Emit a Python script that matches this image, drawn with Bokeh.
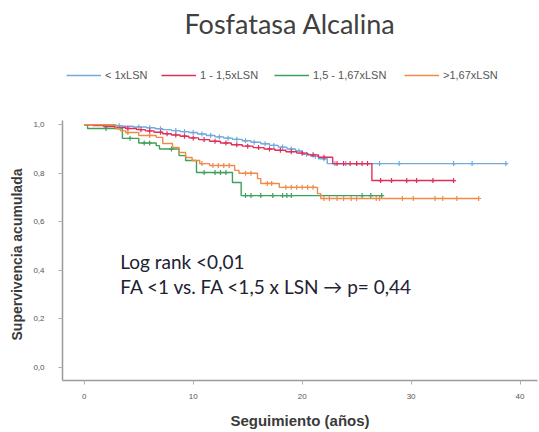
import numpy as np
from bokeh.plotting import figure
from bokeh.models import (Range1d, FixedTicker, Label, Legend, LegendItem, Title)
from bokeh.embed import file_html
from bokeh.resources import INLINE

# ---------------- data ----------------
group_names = ["< 1xLSN", "1 - 1,5xLSN", "1,5 - 1,67xLSN", ">1,67xLSN"]

blue_t = [1.0, 2.5, 3.5, 4.5, 5.7, 6.5, 7.2, 8.0, 8.8, 9.6, 10.4, 11.2, 12.0, 12.8,
          13.6, 14.5, 15.3, 16.2, 17.0, 17.8, 18.6, 19.4, 20.0, 20.8, 21.5, 22.3]
blue_s = [0.998, 0.996, 0.994, 0.991, 0.988, 0.984, 0.980, 0.976, 0.972, 0.968, 0.962,
          0.956, 0.950, 0.945, 0.940, 0.934, 0.928, 0.922, 0.915, 0.908, 0.900, 0.892,
          0.878, 0.870, 0.860, 0.840]
blue_end = 38.7
blue_cens = [3.2, 5.0, 6.0, 7.0, 8.4, 9.2, 10.0, 10.8, 11.6, 12.4, 13.2, 14.0, 14.8,
             15.6, 16.6, 17.4, 18.2, 19.0, 19.7, 20.4, 21.2, 22.0, 23.0, 24.0, 25.0,
             27.1, 28.9, 33.9, 35.6, 38.7]

red_t = [0.8, 1.8, 2.8, 3.8, 4.8, 5.6, 6.4, 7.2, 8.0, 8.8, 9.6, 10.5, 11.5, 12.5,
         13.5, 14.5, 15.5, 16.5, 17.5, 18.5, 19.5, 20.5, 21.5, 22.8, 26.4]
red_s = [0.997, 0.993, 0.989, 0.985, 0.980, 0.975, 0.969, 0.963, 0.958, 0.953, 0.946,
         0.939, 0.932, 0.925, 0.918, 0.912, 0.906, 0.900, 0.895, 0.889, 0.883, 0.876,
         0.866, 0.840, 0.770]
red_end = 33.9
red_cens = [2.0, 4.0, 5.2, 6.0, 7.0, 7.6, 8.4, 9.2, 10.0, 11.0, 12.0, 13.0, 14.0,
            15.0, 16.0, 17.0, 18.0, 19.0, 20.0, 21.0, 22.0, 23.2, 23.8, 24.4, 25.0,
            25.5, 26.0, 27.2, 28.2, 29.6, 30.5, 32.0, 33.9]

green_t = [0.3, 3.5, 5.0, 6.6, 6.9, 8.7, 9.3, 10.3, 13.6, 14.4]
green_s = [0.985, 0.944, 0.925, 0.914, 0.900, 0.873, 0.853, 0.803, 0.762, 0.708]
green_end = 27.3
green_cens = [2.0, 4.2, 5.5, 6.0, 8.0, 11.0, 12.0, 12.5, 13.0, 14.8, 15.3, 16.2,
              17.3, 18.2, 18.6, 19.0, 25.5, 26.3, 27.3]

orange_t = [2.9, 3.3, 3.8, 5.0, 6.6, 7.2, 8.1, 8.7, 9.3, 9.9, 10.6, 11.5, 13.8, 14.2,
            15.9, 16.2, 17.9, 21.4, 21.7]
orange_s = [0.984, 0.975, 0.968, 0.956, 0.948, 0.923, 0.907, 0.886, 0.865, 0.853,
            0.840, 0.832, 0.812, 0.800, 0.778, 0.758, 0.742, 0.716, 0.696]
orange_end = 36.2
orange_cens = [4.0, 6.0, 10.8, 11.8, 12.3, 12.8, 13.3, 14.8, 15.3, 16.8, 17.2, 18.5,
               19.0, 19.5, 20.0, 20.5, 21.0, 22.0, 22.5, 23.2, 23.8, 24.5, 25.0, 26.8,
               27.1, 29.2, 30.2, 32.2, 32.9, 34.2, 36.2]

y_ticks = [0.0, 0.2, 0.4, 0.6, 0.8, 1.0]
y_tick_labels = ["0,0", "0,2", "0,4", "0,6", "0,8", "1,0"]
x_ticks = [0, 10, 20, 30, 40]
x_tick_labels = ["0", "10", "20", "30", "40"]

title_text = "Fosfatasa Alcalina"
y_title = "Supervivencia acumulada"
x_title = "Seguimiento (años)"
note_line1 = "Log rank <0,01"
note_line2 = "FA <1 vs. FA <1,5 x LSN \u2192 p= 0,44"

# ---------------- styles / layout ----------------
plot_colors = ["#72aadd", "#e0305a", "#3f9f5c", "#ef8a4a"]

W, H = 539, 432
B_LEFT, B_BOTTOM, B_RIGHT = 61, 52, 2
FRAME_BOTTOM = H - B_BOTTOM          # 380
PX_PER_UNIT = 242.4
ZERO_PX = 366.7
Y_LOW = -(FRAME_BOTTOM - ZERO_PX) / PX_PER_UNIT
Y_HIGH = ZERO_PX / PX_PER_UNIT
Y_AXIS_TOP = 1.018

p = figure(width=W, height=H, output_backend="svg", toolbar_location=None,
           title=None,
           x_range=Range1d(-2.0, 41.6), y_range=Range1d(Y_LOW, Y_HIGH),
           min_border_left=B_LEFT, min_border_right=B_RIGHT, min_border_top=0,
           min_border_bottom=B_BOTTOM)
p.outline_line_color = None
p.xgrid.visible = False
p.ygrid.visible = False
p.background_fill_color = "white"

for ax in (p.xaxis[0], p.yaxis[0]):
    ax.axis_line_color = "#9a9a9a"
    ax.axis_line_width = 1.5
    ax.major_tick_line_color = "#b0b0b0"
    ax.major_tick_out = 4
    ax.major_tick_in = 0
    ax.minor_tick_line_color = None
    ax.major_label_text_font = "Liberation Sans"
    ax.major_label_text_font_size = "8px"
    ax.major_label_text_color = "#555555"
    ax.axis_label_text_font = "Liberation Sans"
    ax.axis_label_text_font_style = "bold"
    ax.axis_label_text_font_size = "15px"
    ax.axis_label_text_color = "#3a3a3a"

p.yaxis.ticker = FixedTicker(ticks=y_ticks)
p.yaxis.major_label_overrides = {t: l for t, l in zip(y_ticks, y_tick_labels)}
p.yaxis.bounds = (Y_LOW, Y_AXIS_TOP)
p.xaxis.ticker = FixedTicker(ticks=x_ticks)
p.xaxis.major_label_overrides = {t: l for t, l in zip(x_ticks, x_tick_labels)}
p.xaxis.axis_label = x_title
p.xaxis.major_label_standoff = 9
p.yaxis.major_label_standoff = 14
p.xaxis.axis_label_standoff = 10

renderers = []
groups = [
    (blue_t, blue_s, blue_end, blue_cens),
    (red_t, red_s, red_end, red_cens),
    (green_t, green_s, green_end, green_cens),
    (orange_t, orange_s, orange_end, orange_cens),
]
for (t, s, end, cens), col in zip(groups, plot_colors):
    xs = [0.0] + list(t) + [end]
    ys = [1.0] + list(s) + [s[-1]]
    r = p.step(xs, ys, mode="after", line_color=col, line_width=1.4)
    renderers.append(r)
    tt = np.array([0.0] + list(t))
    ss = np.array([1.0] + list(s))
    idx = np.searchsorted(tt, np.array(cens), side="right") - 1
    p.scatter(cens, ss[idx], marker="cross", size=5, line_color=col, line_width=1.2)

# legend entries placed like the original (frame-relative screen pixels)
legend_x = [4, 99, 212, 342]
for name, r, lx in zip(group_names, renderers, legend_x):
    lg = Legend(items=[LegendItem(label=name, renderers=[r])],
                location=(lx, FRAME_BOTTOM - 81), orientation="horizontal",
                glyph_width=35, glyph_height=10, label_standoff=4, padding=0,
                margin=0, spacing=0, border_line_color=None,
                background_fill_alpha=0, label_text_font="Liberation Sans",
                label_text_font_size="11px", label_text_color="#555555",
                label_height=10)
    p.add_layout(lg, "center")

p.add_layout(Label(x=183 - B_LEFT, y=FRAME_BOTTOM - 23, x_units="screen",
                   y_units="screen", text=title_text, text_align="left",
                   text_baseline="alphabetic", text_font="Lato",
                   text_font_size="27px", text_color="#404040"))

p.add_layout(Title(text=y_title, align="left", offset=FRAME_BOTTOM - 340,
                   standoff=12, text_font="Liberation Sans", text_font_size="14px",
                   text_font_style="bold", text_color="#3a3a3a"), "left")

p.add_layout(Label(x=3.3, y=0.437, text=note_line1, text_align="left",
                   text_baseline="alphabetic", text_font="Lato",
                   text_font_size="19px", text_color="#222233"))
p.add_layout(Label(x=3.3, y=0.334, text=note_line2, text_align="left",
                   text_baseline="alphabetic", text_font="Lato",
                   text_font_size="19px", text_color="#222233"))

open("out.html", "w").write(file_html(p, INLINE))
